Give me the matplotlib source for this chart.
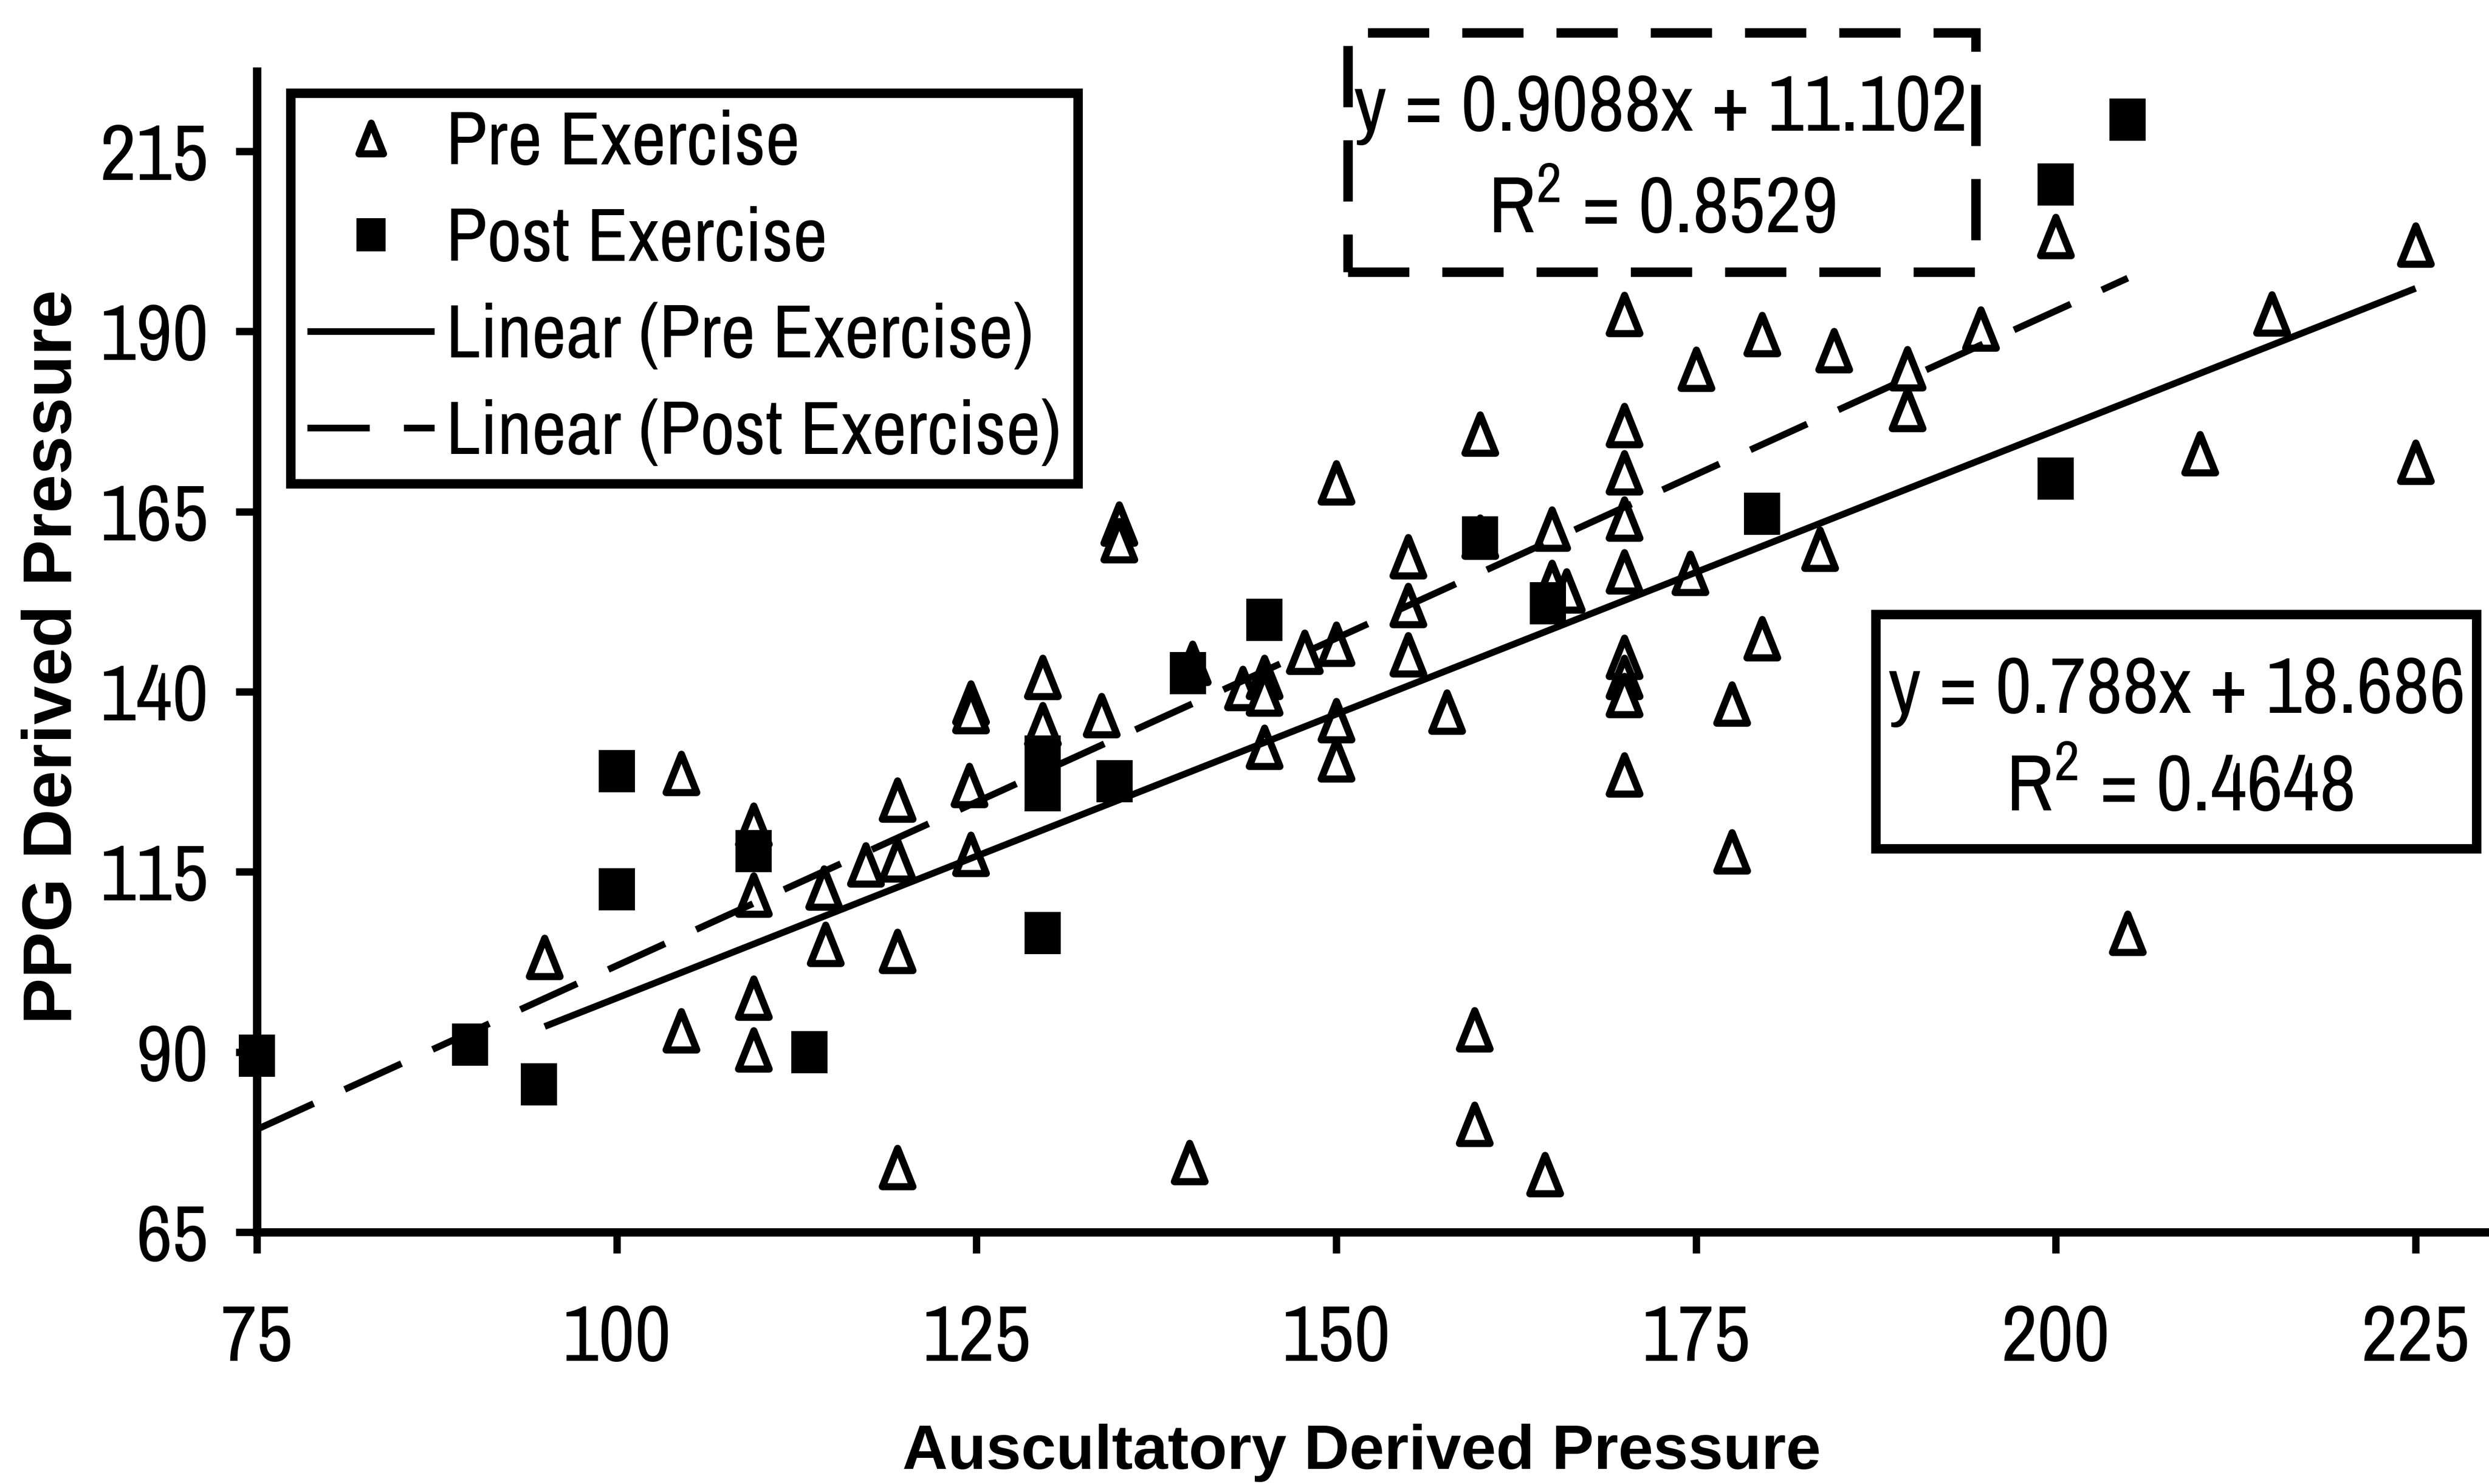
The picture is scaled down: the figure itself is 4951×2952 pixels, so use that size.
import numpy as np
import matplotlib.pyplot as plt
from matplotlib.path import Path
from matplotlib.patches import Rectangle

# PPG vs auscultatory pressure, before exercise
pre_x = [95, 104.5, 104.5, 109.5, 109.5, 109.5, 109.5, 114.4, 114.5, 117.3,
         119.5, 119.5, 119.5, 119.5, 124.6, 124.6, 124.5, 124.6, 129.6, 129.6,
         133.7, 134.9, 134.9, 139.8, 140, 143.5, 145, 145, 145, 147.8,
         150, 150, 150, 150, 155, 155, 155, 157.7, 160, 160,
         159.6, 159.6, 164.5, 165, 165, 166, 170, 170, 170, 170,
         170, 170, 170, 170, 170, 175, 174.6, 177.5, 177.5, 179.6,
         179.6, 183.6, 184.6, 189.7, 189.7, 194.8, 200, 205, 210, 215,
         225, 225]
pre_y = [103.2, 128.7, 93, 121.5, 111.8, 97.5, 90.3, 112.8, 105, 116,
         125, 116.7, 104, 74, 138.5, 137.3, 127, 117.5, 142, 135.5,
         136.7, 163.3, 161, 74.7, 144, 140.5, 142, 139.7, 132.3, 145.5,
         146.6, 169, 136, 130.6, 158.8, 152, 145.2, 137.2, 175.8, 161.5,
         93.1, 80, 73, 162.6, 155.2, 154, 192.4, 177, 170.4, 164,
         156.7, 144.8, 142, 139.5, 128.5, 184.8, 156.5, 138.3, 117.8, 189.6,
         147.4, 159.8, 187.4, 184.9, 179.2, 190.4, 203.2, 106.5, 173.1, 192.5,
         202, 171.9]

# after exercise
post_x = [75, 89.8, 94.6, 100, 100, 109.5, 113.4, 129.6, 129.6, 129.6,
          134.6, 139.7, 145, 160, 164.7, 179.6, 200, 200, 205]
post_y = [89.5, 91, 85.5, 129, 112.6, 117.9, 90, 131, 126.3, 106.5,
          127.6, 142.6, 150, 161.4, 152.3, 164.7, 210.4, 169.6, 219.4]

# trendline coefficients
pre_slope, pre_icpt, pre_r2 = 0.788, 18.686, 0.4648
post_slope, post_icpt, post_r2 = 0.9088, 11.102, 0.8529

x_ticks = [75, 100, 125, 150, 175, 200, 225]
y_ticks = [65, 90, 115, 140, 165, 190, 215]

plt.rcParams['font.family'] = ['Archivo Narrow', 'Liberation Sans', 'DejaVu Sans']
plt.rcParams['mathtext.fontset'] = 'custom'
plt.rcParams['mathtext.rm'] = 'Archivo Narrow'

# narrow triangle and slightly tall square markers
tri = Path([(-0.4, -0.5), (0.4, -0.5), (0, 0.5), (-0.4, -0.5)], closed=True)
sq = Path([(-0.43, -0.5), (0.43, -0.5), (0.43, 0.5), (-0.43, 0.5), (-0.43, -0.5)], closed=True)

fig = plt.figure(figsize=(4951 / 300, 2952 / 300), dpi=300)
ax = fig.add_axes([0.1032, 0.1697, 0.8968, 0.7822])

ax.plot(pre_x, pre_y, linestyle='none', marker=tri, ms=18.3, mfc='white', mec='black',
        mew=3.4, label='Pre Exercise', zorder=3, clip_on=False)
ax.plot(post_x, post_y, linestyle='none', marker=sq, ms=20, mfc='black', mec='black',
        mew=0, label='Post Exercise', zorder=3, clip_on=False)

xs = np.array([min(pre_x), max(pre_x)])
ax.plot(xs, pre_slope * xs + pre_icpt, color='black', lw=3.2, solid_capstyle='butt',
        label='Linear (Pre Exercise)', zorder=4)
xs2 = np.array([min(post_x), max(post_x)])
ax.plot(xs2, post_slope * xs2 + post_icpt, color='black', lw=3.2, dashes=(9.3, 5.1),
        dash_capstyle='butt', label='Linear (Post Exercise)', zorder=4)

ax.set_xlim(75, 230.1)
ax.set_ylim(65, 226.1)
ax.set_xticks(x_ticks)
ax.set_yticks(y_ticks)
for s in ['top', 'right']:
    ax.spines[s].set_visible(False)
for s in ['left', 'bottom']:
    ax.spines[s].set_linewidth(4)
ax.tick_params(axis='both', direction='out', length=10, width=3.5, labelsize=38)
ax.tick_params(axis='x', pad=24)
ax.tick_params(axis='y', pad=13)

ax.set_xlabel('Auscultatory Derived Pressure', fontsize=30, fontweight='bold',
              family='Liberation Sans')
ax.xaxis.set_label_coords(0.495, -0.165)
ax.set_ylabel('PPG Derived Pressure', fontsize=33, fontweight='bold',
              family='Liberation Sans')
ax.yaxis.set_label_coords(-0.0766, 0.4955)

leg = ax.legend(loc='upper left', bbox_to_anchor=(0.1167, 0.9373),
                bbox_transform=fig.transFigure, fontsize=36, frameon=True,
                fancybox=False, edgecolor='black', framealpha=1, borderpad=0.22,
                labelspacing=0.38, handlelength=1.69, handletextpad=0.15,
                borderaxespad=0, markerscale=0.8)
leg.get_frame().set_linewidth(4.5)

# equation boxes
fig.add_artist(Rectangle((0.7536, 0.4282), 0.2414, 0.1578, transform=fig.transFigure,
                         fill=False, lw=4.5, ec='black'))
fig.text(0.8746, 0.5196, f'y = {pre_slope}x + {pre_icpt}', ha='center', va='baseline', fontsize=38)
fig.text(0.8756, 0.4536, f'R$^{{\\mathrm{{2}}}}$ = {pre_r2}', ha='center', va='baseline', fontsize=38)

fig.add_artist(Rectangle((0.5415, 0.8167), 0.2523, 0.1612, transform=fig.transFigure,
                         fill=False, lw=4.5, ec='black', ls=(0, (6.5, 3.5))))
fig.text(0.6672, 0.912, f'y = {post_slope}x + {post_icpt}', ha='center', va='baseline', fontsize=38)
fig.text(0.6676, 0.8432, f'R$^{{\\mathrm{{2}}}}$ = {post_r2}', ha='center', va='baseline', fontsize=38)

fig.savefig('out.png', dpi=300)
